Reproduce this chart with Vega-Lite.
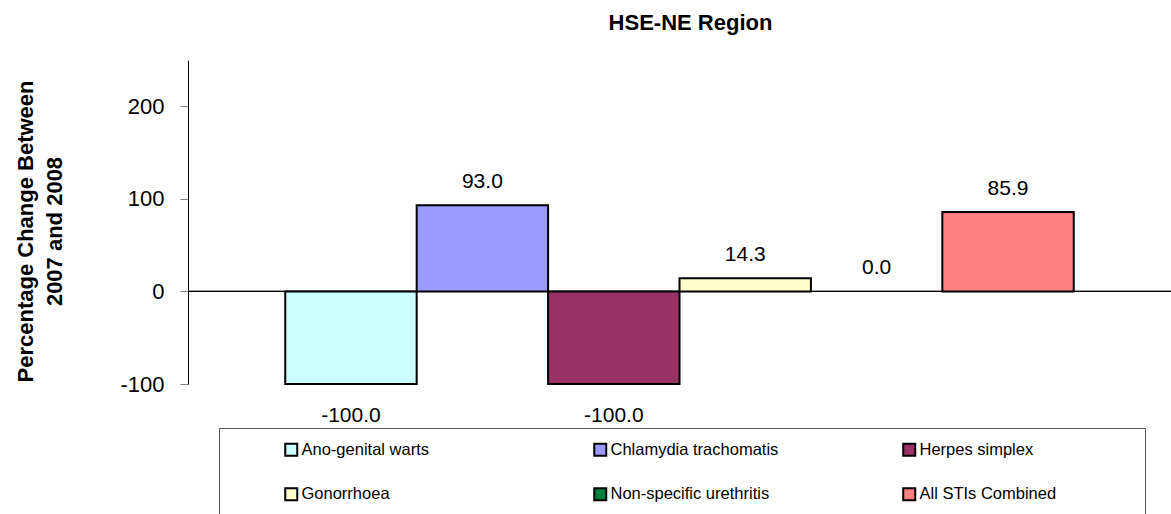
{
  "$schema": "https://vega.github.io/schema/vega-lite/v6.json",
  "width": 983,
  "height": 324,
  "autosize": {"type": "none"},
  "padding": {"left": 188, "top": 60, "right": 0, "bottom": 130},
  "background": "white",
  "config": {
    "view": {"stroke": null},
    "font": "Liberation Sans, Arial, sans-serif",
    "locale": {
      "number": {"decimal": ".", "thousands": ",", "grouping": [3], "currency": ["$", ""], "minus": "-"}
    }
  },
  "title": {
    "text": "HSE-NE Region",
    "fontSize": 22,
    "fontWeight": "bold",
    "font": "Liberation Sans, Arial, sans-serif",
    "color": "black",
    "anchor": "middle",
    "frame": "group",
    "dx": 11,
    "offset": 25
  },
  "data": {
    "values": [
      {"category": "Ano-genital warts", "value": -100.0},
      {"category": "Chlamydia trachomatis", "value": 93.0},
      {"category": "Herpes simplex", "value": -100.0},
      {"category": "Gonorrhoea", "value": 14.3},
      {"category": "Non-specific urethritis", "value": 0.0},
      {"category": "All STIs Combined", "value": 85.9}
    ]
  },
  "encoding": {
    "x": {
      "field": "category",
      "type": "nominal",
      "sort": null,
      "scale": {
        "domain": ["Ano-genital warts", "Chlamydia trachomatis", "Herpes simplex", "Gonorrhoea", "Non-specific urethritis", "All STIs Combined"],
        "paddingInner": 0,
        "paddingOuter": 0.74
      },
      "axis": null
    },
    "y": {
      "field": "value",
      "type": "quantitative",
      "scale": {"domain": [-100, 250], "nice": false, "zero": false},
      "axis": {
        "values": [-100, 0, 100, 200],
        "grid": false,
        "domainColor": "black",
        "domainWidth": 1,
        "tickColor": "#808080",
        "tickSize": 8,
        "labelFontSize": 22,
        "labelColor": "black",
        "labelPadding": 16,
        "title": ["Percentage Change Between", "2007 and 2008"],
        "titleFontSize": 22,
        "titleFontWeight": "bold",
        "titleColor": "black",
        "titleLineHeight": 29,
        "titlePadding": 53,
        "titleY": 171
      }
    }
  },
  "layer": [
    {
      "mark": {"type": "rule", "color": "black", "strokeWidth": 1},
      "encoding": {"y": {"datum": 0, "type": "quantitative"}, "x": null}
    },
    {
      "transform": [{"filter": "datum.value != 0"}],
      "mark": {"type": "bar", "stroke": "black", "strokeWidth": 2},
      "encoding": {
        "color": {
          "field": "category",
          "type": "nominal",
          "scale": {
            "domain": ["Ano-genital warts", "Chlamydia trachomatis", "Herpes simplex", "Gonorrhoea", "Non-specific urethritis", "All STIs Combined"],
            "range": ["#CCFFFF", "#9999FF", "#993366", "#FFFFCC", "#007F3F", "#FF8080"]
          },
          "legend": {
            "orient": "none",
            "legendX": 31,
            "legendY": 368,
            "columns": 3,
            "direction": "horizontal",
            "title": " ",
            "titleOrient": "right",
            "titleFontSize": 4,
            "titlePadding": 76,
            "symbolType": "square",
            "symbolSize": 144,
            "symbolStrokeColor": "black",
            "symbolStrokeWidth": 2,
            "labelFontSize": 16.5,
            "labelColor": "black",
            "labelLimit": 300,
            "labelOffset": 2,
            "gridAlign": "all",
            "columnPadding": 71,
            "rowPadding": 24,
            "padding": 13,
            "symbolOffset": 51,
            "strokeColor": "#555555"
          }
        }
      }
    },
    {
      "transform": [{"filter": "datum.value >= 0"}],
      "mark": {"type": "text", "baseline": "alphabetic", "dy": -17, "fontSize": 21, "color": "black"},
      "encoding": {"text": {"field": "value", "type": "quantitative", "format": ".1f"}}
    },
    {
      "transform": [{"filter": "datum.value < 0"}],
      "mark": {"type": "text", "baseline": "alphabetic", "dy": 38, "fontSize": 21, "color": "black"},
      "encoding": {"text": {"field": "value", "type": "quantitative", "format": ".1f"}}
    }
  ]
}
